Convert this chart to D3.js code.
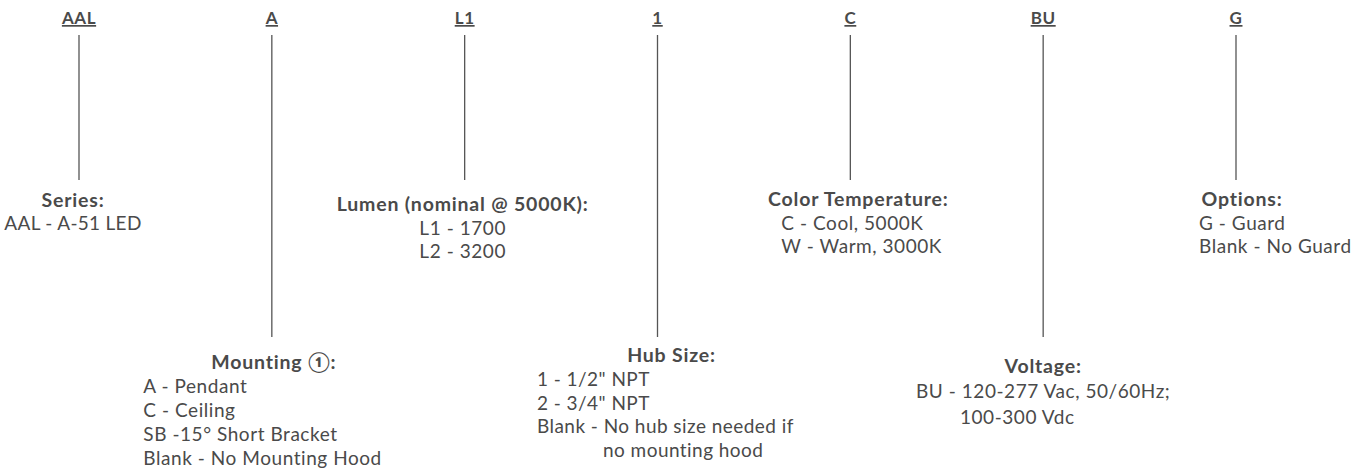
<!DOCTYPE html>
<html>
<head>
<meta charset="utf-8">
<script src="https://cdn.jsdelivr.net/npm/d3@7/dist/d3.min.js"></script>
<style>
  html, body { margin: 0; padding: 0; background: #fff; }
  svg { display: block; }
  text { font-family: Lato, "Open Sans", "Noto Sans", sans-serif; fill: #4a4a4a; }
</style>
</head>
<body>
<svg id="chart" width="1365" height="474"></svg>
<script>
// ---- data ----
const codes = ["AAL", "A", "L1", "1", "C", "BU", "G"];
const titles = ["Series:", "Mounting \u2460:", "Lumen (nominal @ 5000K):", "Hub Size:", "Color Temperature:", "Voltage:", "Options:"];
const seriesOptions = ["AAL - A-51 LED"];
const mountingOptions = ["A - Pendant", "C - Ceiling", "SB -15\u00b0 Short Bracket", "Blank - No Mounting Hood"];
const lumenOptions = ["L1 - 1700", "L2 - 3200"];
const hubOptions = ["1 - 1/2\" NPT", "2 - 3/4\" NPT", "Blank - No hub size needed if", "no mounting hood"];
const colorOptions = ["C - Cool, 5000K", "W - Warm, 3000K"];
const voltageOptions = ["BU - 120-277 Vac, 50/60Hz;", "100-300 Vdc"];
const guardOptions = ["G - Guard", "Blank - No Guard"];
const optionLists = [seriesOptions, mountingOptions, lumenOptions, hubOptions, colorOptions, voltageOptions, guardOptions];

// ---- layout (positions/styles, not data) ----
// tier: 0 = upper block, 1 = lower block
const layout = [
  { tier: 0, titleY: 206.5, titleDx: -6,  itemAnchor: "middle", itemDx: -6,   itemY0: 229.5, step: 23, indents: [], ls: 0.3 },
  { tier: 1, titleY: 369, titleDx: 2,   itemAnchor: "start",  itemDx: -128.5, itemY0: 393, step: 24, indents: [], ls: 0.55 },
  { tier: 0, titleY: 211, titleDx: -2,  itemAnchor: "middle", itemDx: -2,   itemY0: 234.5, step: 23.5, indents: [], ls: 0.55 },
  { tier: 1, titleY: 362, titleDx: 14,  itemAnchor: "start",  itemDx: -120.5, itemY0: 386, step: 23.7, indents: [0,0,0,66], ls: 0.45 },
  { tier: 0, titleY: 206, titleDx: 8,   itemAnchor: "start",  itemDx: -69,  itemY0: 229.5, step: 23.5, indents: [], ls: 0.55 },
  { tier: 1, titleY: 373, titleDx: 0,   itemAnchor: "middle", itemDx: 0,    itemY0: 398, step: 26, indents: [], ls: 0.55 },
  { tier: 0, titleY: 206, titleDx: 6,   itemAnchor: "start",  itemDx: -37,  itemY0: 229.5, step: 23.5, indents: [], ls: 0.55 }
];

const svg = d3.select("#chart");
const x = d3.scalePoint().domain(codes).range([79, 1236]);

const lineTop = 35;
const lineBottom = [180, 337];

const g = svg.selectAll("g.col").data(codes).join("g")
  .attr("class", "col")
  .attr("transform", d => `translate(${x(d)},0)`);

// code labels (underlined)
g.append("text")
  .attr("x", 0).attr("y", 24)
  .attr("text-anchor", "middle")
  .attr("font-weight", 700)
  .attr("font-size", 17)
  .attr("letter-spacing", 0.6)
  .attr("text-decoration", "underline")
  .text(d => d);

// connector lines
g.append("line")
  .attr("x1", 0).attr("x2", 0)
  .attr("y1", lineTop)
  .attr("y2", (d, i) => lineBottom[layout[i].tier])
  .attr("stroke", "#555")
  .attr("stroke-width", 1.3);

// description blocks
g.each(function(d, i) {
  const L = layout[i];
  const col = d3.select(this);

  col.append("text")
    .attr("class", "title")
    .attr("x", L.titleDx)
    .attr("y", L.titleY)
    .attr("text-anchor", "middle")
    .attr("font-weight", 700)
    .attr("font-size", 19.5)
    .attr("letter-spacing", 0.8)
    .text(titles[i]);

  const sel = col.selectAll("text.opt").data(optionLists[i]).join("text")
    .attr("class", "opt")
    .attr("x", (t, j) => L.itemDx + (L.indents[j] || 0))
    .attr("y", (t, j) => L.itemY0 + j * L.step)
    .attr("text-anchor", L.itemAnchor)
    .attr("font-size", 19)
    .attr("letter-spacing", L.ls)
    .text(t => t);

  // voltage: continuation line is indented relative to the first line's start
  if (i === 5) {
    const w = sel.nodes()[0].getComputedTextLength();
    sel.filter((t, j) => j > 0)
      .attr("text-anchor", "start")
      .attr("x", -w / 2 + 44);
  }
});
</script>
</body>
</html>
